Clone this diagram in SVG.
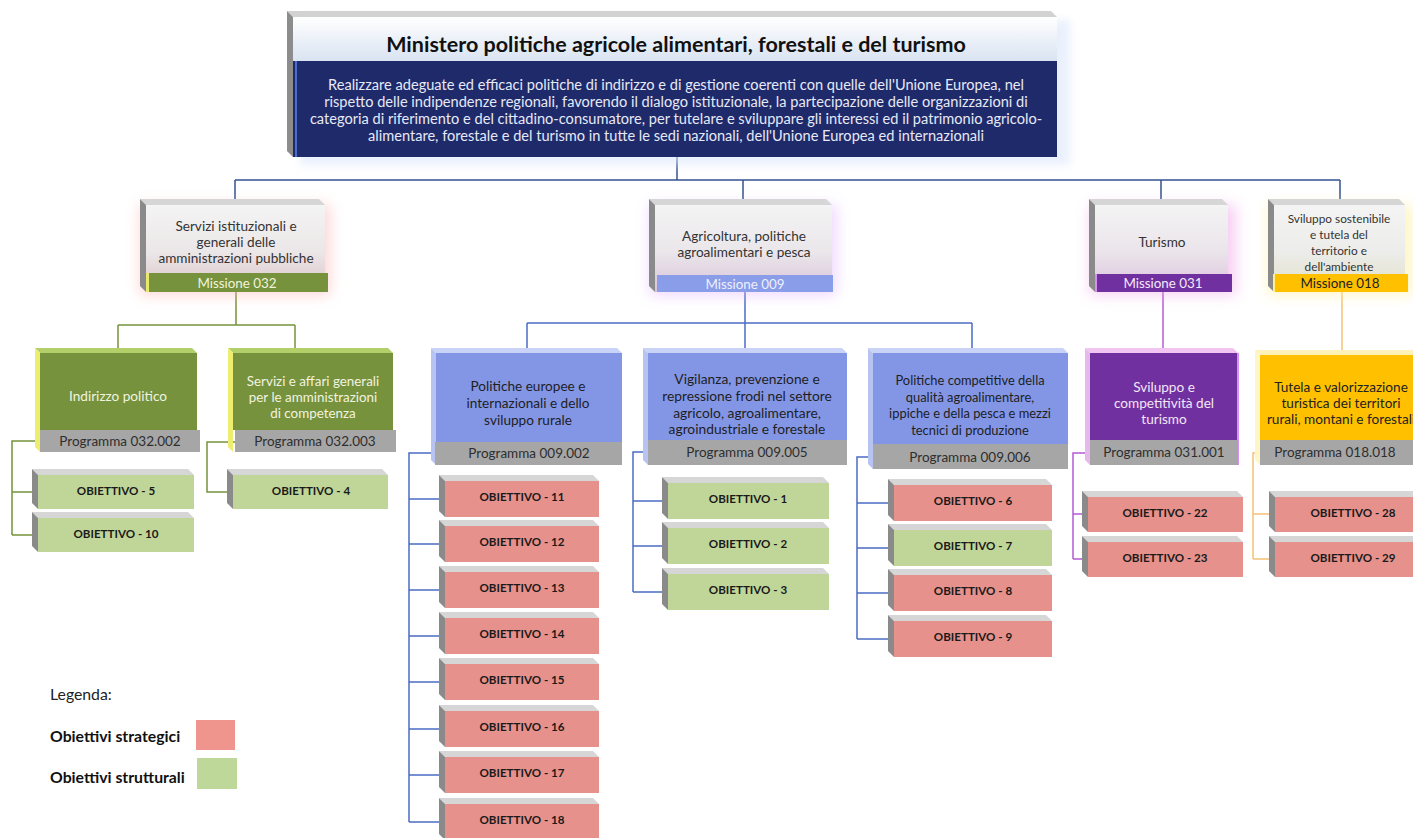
<svg xmlns="http://www.w3.org/2000/svg" width="1413" height="838" viewBox="0 0 1413 838">
<defs>
<linearGradient id="gTitle" x1="0" y1="0" x2="0" y2="1"><stop offset="0" stop-color="#ffffff"/><stop offset="1" stop-color="#d9e3f1"/></linearGradient>
<linearGradient id="gM1" x1="0" y1="0" x2="0" y2="1"><stop offset="0" stop-color="#f4f4f4"/><stop offset="0.55" stop-color="#ebe6e7"/><stop offset="1" stop-color="#dcc3c8"/></linearGradient>
<linearGradient id="gM2" x1="0" y1="0" x2="0" y2="1"><stop offset="0" stop-color="#f4f4f4"/><stop offset="0.55" stop-color="#eae6ea"/><stop offset="1" stop-color="#d9c2d9"/></linearGradient>
<linearGradient id="gM3" x1="0" y1="0" x2="0" y2="1"><stop offset="0" stop-color="#f4f4f4"/><stop offset="0.55" stop-color="#eae4ea"/><stop offset="1" stop-color="#dcc1dc"/></linearGradient>
<linearGradient id="gM4" x1="0" y1="0" x2="0" y2="1"><stop offset="0" stop-color="#f4f4f4"/><stop offset="0.55" stop-color="#ececea"/><stop offset="1" stop-color="#e0e0c6"/></linearGradient>
<filter id="glow" x="-30%" y="-30%" width="160%" height="160%"><feGaussianBlur stdDeviation="7"/></filter>
<filter id="soft" x="-10%" y="-20%" width="120%" height="140%"><feGaussianBlur stdDeviation="4"/></filter>
</defs>
<style>
text{font-family:Lato,"Liberation Sans",sans-serif;text-anchor:middle;dominant-baseline:central}
.con{fill:none;stroke-width:1.5}
.cb{stroke:#34528f}
.cg{stroke:#76923c}
.cl{stroke:#4a6cc4}
.cp{stroke:#b45ad2}
.co{stroke:#f3c276}
.bt{fill:#d6d6d6}
.bl{fill:#8a8a8a}
.red .f{fill:#e6918b}
.grn .f{fill:#c0d698}
.obj text{font-size:11.6px;font-weight:700;fill:#1a1a1a}
.mt{font-size:13.6px;fill:#333}
.pt{font-size:13.6px}
.prog{fill:#a6a6a6}
.progt{font-size:13.5px;fill:#2e2e2e}
.misst{font-size:13.4px}
.lg{font-size:15.8px;text-anchor:start}
</style>

<rect width="1413" height="838" fill="#ffffff"/>

<g id="connectors">
<path class="con cb" d="M677,157V180M235,180H1340M235,180V200M743,180V200M1161,180V200M1340,180V200"/>
<path class="con cg" d="M236,292V325M118,325H295M118,325V350M295,325V350"/>
<path class="con cl" d="M745,292V323M527,323H972M527,323V350M745,323V350M972,323V350"/>
<path class="con cp" d="M1163,292V350"/>
<path class="con co" d="M1342,292V352"/>
<path class="con cg" d="M40,441H12V535M12,492H38M12,535H38"/>
<path class="con cg" d="M235,442H207V492H233"/>
<path class="con cl" d="M435,453H409V822M409,499H445M409,544H445M409,590H445M409,636H445M409,682H445M409,729H445M409,775H445M409,822H445"/>
<path class="con cl" d="M648,452H633V592M633,501H668M633,546H668M633,592H668"/>
<path class="con cl" d="M873,457H857V639M857,503H894M857,548H894M857,593H894M857,639H894"/>
<path class="con cp" d="M1090,453H1073V559M1073,514H1088M1073,559H1088"/>
<path class="con co" d="M1260,453H1253V559M1253,514H1275M1253,559H1275"/>
</g>

<g id="ministero">
<rect x="300" y="20" width="770" height="145" fill="#dbe6fb" filter="url(#soft)" opacity="0.6"/>
<polygon points="293,17 287,11 1051,11 1057,17" fill="#d2d2d2"/>
<polygon points="293,17 287,11 287,151 293,157" fill="#8c8c8c"/>
<rect x="293" y="17" width="764" height="44" fill="url(#gTitle)"/>
<rect x="293" y="61" width="764" height="96" fill="#1f2a6b"/>
<rect x="295" y="61" width="2" height="96" fill="#4a6ed0"/>
<text x="676" y="44" font-size="21.5" font-weight="700" fill="#111">Ministero politiche agricole alimentari, forestali e del turismo</text>
<g font-size="14.6" fill="#e6e9f6">
<text x="676" y="84">Realizzare adeguate ed efficaci politiche di indirizzo e di gestione coerenti con quelle dell'Unione Europea, nel</text>
<text x="676" y="101">rispetto delle indipendenze regionali, favorendo il dialogo istituzionale, la partecipazione delle organizzazioni di</text>
<text x="676" y="118">categoria di riferimento e del cittadino-consumatore, per tutelare e sviluppare gli interessi ed il patrimonio agricolo-</text>
<text x="676" y="135">alimentare, forestale e del turismo in tutte le sedi nazionali, dell'Unione Europea ed internazionali</text>
</g>
</g>

<g id="missione032">
<rect x="140" y="205" width="190" height="90" fill="#ffb4b4" opacity="0.55" filter="url(#glow)"/>
<polygon class="bt" points="146,205 140,199 319,199 325,205"/>
<polygon class="bl" points="146,205 140,199 140,286 146,292"/>
<rect x="146" y="205" width="179" height="87" fill="url(#gM1)"/>
<text class="mt" x="236" y="226">Servizi istituzionali e</text>
<text class="mt" x="236" y="242">generali delle</text>
<text class="mt" x="236" y="258">amministrazioni pubbliche</text>
<rect x="146" y="273" width="182" height="19" fill="#76923c"/>
<rect x="146" y="273" width="3" height="19" fill="#e8e86a"/>
<text class="misst" x="237" y="283" fill="#f2f2dc">Missione 032</text>
</g>

<g id="missione009">
<rect x="650" y="205" width="186" height="90" fill="#e2b4ff" opacity="0.55" filter="url(#glow)"/>
<polygon class="bt" points="655,205 649,199 826,199 832,205"/>
<polygon class="bl" points="655,205 649,199 649,286 655,292"/>
<rect x="655" y="205" width="177" height="87" fill="url(#gM2)"/>
<text class="mt" x="744" y="236">Agricoltura, politiche</text>
<text class="mt" x="744" y="252">agroalimentari e pesca</text>
<rect x="657" y="275" width="176" height="17" fill="#8a9de8"/>
<text class="misst" x="745" y="284" fill="#eef0ff">Missione 009</text>
</g>

<g id="missione031">
<rect x="1090" y="205" width="146" height="90" fill="#f0a8e8" opacity="0.55" filter="url(#glow)"/>
<polygon class="bt" points="1095,205 1089,199 1222,199 1228,205"/>
<polygon class="bl" points="1095,205 1089,199 1089,286 1095,292"/>
<rect x="1095" y="205" width="133" height="87" fill="url(#gM3)"/>
<text class="mt" x="1162" y="242">Turismo</text>
<rect x="1095" y="274" width="137" height="18" fill="#7030a0"/>
<rect x="1095" y="274" width="2" height="18" fill="#d890f0"/>
<text class="misst" x="1163" y="283" fill="#f4eafa">Missione 031</text>
</g>

<g id="missione018">
<rect x="1268" y="205" width="145" height="90" fill="#fff0a0" opacity="0.6" filter="url(#glow)"/>
<polygon class="bt" points="1274,205 1268,199 1399,199 1405,205"/>
<polygon class="bl" points="1274,205 1268,199 1268,286 1274,292"/>
<rect x="1274" y="205" width="131" height="87" fill="url(#gM4)"/>
<g font-size="11.8">
<text x="1339" y="218" fill="#333">Sviluppo sostenibile</text>
<text x="1339" y="234" fill="#333">e tutela del</text>
<text x="1339" y="250" fill="#333">territorio e</text>
<text x="1339" y="266" fill="#333">dell'ambiente</text>
</g>
<rect x="1273" y="274" width="135" height="18" fill="#ffc000"/>
<rect x="1273" y="274" width="2" height="18" fill="#fff08a"/>
<text class="misst" x="1340" y="283" fill="#222">Missione 018</text>
</g>

<g id="prog032002">
<polygon points="40,353 35,348 192,348 197,353" fill="#b2cf6a"/>
<polygon points="40,353 35,348 35,447 40,452" fill="#eded70"/>
<rect x="40" y="353" width="157" height="77" fill="#76923c"/>
<text class="pt" x="118" y="396" fill="#f2f2e0">Indirizzo politico</text>
<rect x="40" y="430" width="160" height="22" class="prog"/>
<text class="progt" x="120" y="441">Programma 032.002</text>
</g>

<g id="prog032003">
<polygon points="233,353 228,348 388,348 393,353" fill="#b2cf6a"/>
<polygon points="233,353 228,348 228,447 233,452" fill="#eded70"/>
<rect x="233" y="353" width="160" height="77" fill="#76923c"/>
<g font-size="13.4">
<text x="313" y="381" fill="#f2f2e0">Servizi e affari generali</text>
<text x="313" y="397" fill="#f2f2e0">per le amministrazioni</text>
<text x="313" y="413" fill="#f2f2e0">di competenza</text>
</g>
<rect x="235" y="430" width="161" height="22" class="prog"/>
<text class="progt" x="315" y="441">Programma 032.003</text>
</g>

<g id="prog009002">
<polygon points="436,353 431,348 617,348 622,353" fill="#c9d3f7"/>
<polygon points="436,353 431,348 431,460 436,465" fill="#b7c4f2"/>
<rect x="436" y="353" width="186" height="89" fill="#8396e6"/>
<text class="pt" x="528" y="386" fill="#1e1e1e">Politiche europee e</text>
<text class="pt" x="528" y="403" fill="#1e1e1e">internazionali e dello</text>
<text class="pt" x="528" y="420" fill="#1e1e1e">sviluppo rurale</text>
<rect x="435" y="442" width="187" height="23" class="prog"/>
<text class="progt" x="529" y="453">Programma 009.002</text>
</g>

<g id="prog009005">
<polygon points="648,353 643,348 842,348 847,353" fill="#c9d3f7"/>
<polygon points="648,353 643,348 643,460 648,465" fill="#b7c4f2"/>
<rect x="648" y="353" width="199" height="87" fill="#8396e6"/>
<g font-size="13.8">
<text x="747" y="378" fill="#1e1e1e">Vigilanza, prevenzione e</text>
<text x="747" y="395" fill="#1e1e1e">repressione frodi nel settore</text>
<text x="747" y="412" fill="#1e1e1e">agricolo, agroalimentare,</text>
<text x="747" y="428" fill="#1e1e1e">agroindustriale e forestale</text>
</g>
<rect x="648" y="440" width="199" height="25" class="prog"/>
<text class="progt" x="747" y="452">Programma 009.005</text>
</g>

<g id="prog009006">
<polygon points="873,353 868,348 1063,348 1068,353" fill="#c9d3f7"/>
<polygon points="873,353 868,348 868,464 873,469" fill="#b7c4f2"/>
<rect x="873" y="353" width="195" height="91" fill="#8396e6"/>
<g font-size="12.9">
<text x="970" y="380" fill="#1e1e1e">Politiche competitive della</text>
<text x="970" y="397" fill="#1e1e1e">qualità agroalimentare,</text>
<text x="970" y="413" fill="#1e1e1e">ippiche e della pesca e  mezzi</text>
<text x="970" y="430" fill="#1e1e1e">tecnici di produzione</text>
</g>
<rect x="873" y="444" width="195" height="25" class="prog"/>
<text class="progt" x="970" y="457">Programma 009.006</text>
</g>

<g id="prog031001">
<polygon points="1090,353 1085,348 1233,348 1238,353" fill="#f2c4f2"/>
<polygon points="1090,353 1085,348 1085,460 1090,465" fill="#e6b8ec"/>
<rect x="1090" y="353" width="148" height="87" fill="#7030a0"/>
<rect x="1237" y="353" width="2" height="112" fill="#d890f0"/>
<text class="pt" x="1164" y="387" fill="#f3e6f6">Sviluppo e</text>
<text class="pt" x="1164" y="403" fill="#f3e6f6">competitività del</text>
<text class="pt" x="1164" y="419" fill="#f3e6f6">turismo</text>
<rect x="1090" y="440" width="148" height="25" class="prog"/>
<text class="progt" x="1164" y="452">Programma 031.001</text>
</g>

<g id="prog018018">
<polygon points="1260,355 1255,350 1413,350 1413,355" fill="#fff2b8"/>
<polygon points="1260,355 1255,350 1255,460 1260,465" fill="#fff6c8"/>
<rect x="1260" y="355" width="160" height="85" fill="#ffc000"/>
<text class="pt" x="1341" y="387" fill="#222">Tutela e valorizzazione</text>
<text class="pt" x="1341" y="403" fill="#222">turistica dei territori</text>
<text class="pt" x="1341" y="419" fill="#222">rurali, montani e forestali</text>
<rect x="1260" y="440" width="160" height="25" class="prog"/>
<text class="progt" x="1335" y="452">Programma 018.018</text>
</g>

<g id="ob5" class="obj grn"><polygon class="bt" points="38,475 32,469 188,469 194,475"/><polygon class="bl" points="38,475 32,469 32,503 38,509"/><rect class="f" x="38" y="475" width="156" height="34"/><text x="116" y="490">OBIETTIVO - 5</text></g>
<g id="ob10" class="obj grn"><polygon class="bt" points="38,518 32,512 188,512 194,518"/><polygon class="bl" points="38,518 32,512 32,546 38,552"/><rect class="f" x="38" y="518" width="156" height="34"/><text x="116" y="533">OBIETTIVO - 10</text></g>
<g id="ob4" class="obj grn"><polygon class="bt" points="233,475 227,469 382,469 388,475"/><polygon class="bl" points="233,475 227,469 227,503 233,509"/><rect class="f" x="233" y="475" width="155" height="34"/><text x="311" y="490">OBIETTIVO - 4</text></g>

<g id="ob11" class="obj red"><polygon class="bt" points="445,481 439,475 593,475 599,481"/><polygon class="bl" points="445,481 439,475 439,511 445,517"/><rect class="f" x="445" y="481" width="154" height="36"/><text x="522" y="496">OBIETTIVO - 11</text></g>
<g id="ob12" class="obj red"><polygon class="bt" points="445,526 439,520 593,520 599,526"/><polygon class="bl" points="445,526 439,520 439,556 445,562"/><rect class="f" x="445" y="526" width="154" height="36"/><text x="522" y="541">OBIETTIVO - 12</text></g>
<g id="ob13" class="obj red"><polygon class="bt" points="445,572 439,566 593,566 599,572"/><polygon class="bl" points="445,572 439,566 439,602 445,608"/><rect class="f" x="445" y="572" width="154" height="36"/><text x="522" y="587">OBIETTIVO - 13</text></g>
<g id="ob14" class="obj red"><polygon class="bt" points="445,618 439,612 593,612 599,618"/><polygon class="bl" points="445,618 439,612 439,648 445,654"/><rect class="f" x="445" y="618" width="154" height="36"/><text x="522" y="633">OBIETTIVO - 14</text></g>
<g id="ob15" class="obj red"><polygon class="bt" points="445,664 439,658 593,658 599,664"/><polygon class="bl" points="445,664 439,658 439,694 445,700"/><rect class="f" x="445" y="664" width="154" height="36"/><text x="522" y="679">OBIETTIVO - 15</text></g>
<g id="ob16" class="obj red"><polygon class="bt" points="445,711 439,705 593,705 599,711"/><polygon class="bl" points="445,711 439,705 439,741 445,747"/><rect class="f" x="445" y="711" width="154" height="36"/><text x="522" y="726">OBIETTIVO - 16</text></g>
<g id="ob17" class="obj red"><polygon class="bt" points="445,757 439,751 593,751 599,757"/><polygon class="bl" points="445,757 439,751 439,787 445,793"/><rect class="f" x="445" y="757" width="154" height="36"/><text x="522" y="772">OBIETTIVO - 17</text></g>
<g id="ob18" class="obj red"><polygon class="bt" points="445,804 439,798 593,798 599,804"/><polygon class="bl" points="445,804 439,798 439,834 445,840"/><rect class="f" x="445" y="804" width="154" height="36"/><text x="522" y="819">OBIETTIVO - 18</text></g>

<g id="ob1" class="obj grn"><polygon class="bt" points="668,483 662,477 823,477 829,483"/><polygon class="bl" points="668,483 662,477 662,513 668,519"/><rect class="f" x="668" y="483" width="161" height="36"/><text x="748" y="498">OBIETTIVO - 1</text></g>
<g id="ob2" class="obj grn"><polygon class="bt" points="668,528 662,522 823,522 829,528"/><polygon class="bl" points="668,528 662,522 662,558 668,564"/><rect class="f" x="668" y="528" width="161" height="36"/><text x="748" y="543">OBIETTIVO - 2</text></g>
<g id="ob3" class="obj grn"><polygon class="bt" points="668,574 662,568 823,568 829,574"/><polygon class="bl" points="668,574 662,568 662,604 668,610"/><rect class="f" x="668" y="574" width="161" height="36"/><text x="748" y="589">OBIETTIVO - 3</text></g>

<g id="ob6" class="obj red"><polygon class="bt" points="894,485 888,479 1046,479 1052,485"/><polygon class="bl" points="894,485 888,479 888,515 894,521"/><rect class="f" x="894" y="485" width="158" height="36"/><text x="973" y="500">OBIETTIVO - 6</text></g>
<g id="ob7" class="obj grn"><polygon class="bt" points="894,530 888,524 1046,524 1052,530"/><polygon class="bl" points="894,530 888,524 888,560 894,566"/><rect class="f" x="894" y="530" width="158" height="36"/><text x="973" y="545">OBIETTIVO - 7</text></g>
<g id="ob8" class="obj red"><polygon class="bt" points="894,575 888,569 1046,569 1052,575"/><polygon class="bl" points="894,575 888,569 888,605 894,611"/><rect class="f" x="894" y="575" width="158" height="36"/><text x="973" y="590">OBIETTIVO - 8</text></g>
<g id="ob9" class="obj red"><polygon class="bt" points="894,621 888,615 1046,615 1052,621"/><polygon class="bl" points="894,621 888,615 888,651 894,657"/><rect class="f" x="894" y="621" width="158" height="36"/><text x="973" y="636">OBIETTIVO - 9</text></g>

<g id="ob22" class="obj red"><polygon class="bt" points="1088,497 1082,491 1237,491 1243,497"/><polygon class="bl" points="1088,497 1082,491 1082,526 1088,532"/><rect class="f" x="1088" y="497" width="155" height="35"/><text x="1165" y="512">OBIETTIVO - 22</text></g>
<g id="ob23" class="obj red"><polygon class="bt" points="1088,542 1082,536 1237,536 1243,542"/><polygon class="bl" points="1088,542 1082,536 1082,571 1088,577"/><rect class="f" x="1088" y="542" width="155" height="35"/><text x="1165" y="557">OBIETTIVO - 23</text></g>

<g id="ob28" class="obj red"><polygon class="bt" points="1275,497 1269,491 1425,491 1431,497"/><polygon class="bl" points="1275,497 1269,491 1269,526 1275,532"/><rect class="f" x="1275" y="497" width="156" height="35"/><text x="1353" y="512">OBIETTIVO - 28</text></g>
<g id="ob29" class="obj red"><polygon class="bt" points="1275,542 1269,536 1425,536 1431,542"/><polygon class="bl" points="1275,542 1269,536 1269,571 1275,577"/><rect class="f" x="1275" y="542" width="156" height="35"/><text x="1353" y="557">OBIETTIVO - 29</text></g>

<g id="legenda">
<text class="lg" x="50" y="693" fill="#222">Legenda:</text>
<text class="lg" x="50" y="735" font-weight="700" fill="#111">Obiettivi strategici</text>
<text class="lg" x="50" y="776" font-weight="700" fill="#111">Obiettivi strutturali</text>
<rect x="196" y="720" width="39" height="30" fill="#ef958e"/>
<rect x="197" y="758" width="40" height="31" fill="#bdd898"/>
</g>
</svg>
